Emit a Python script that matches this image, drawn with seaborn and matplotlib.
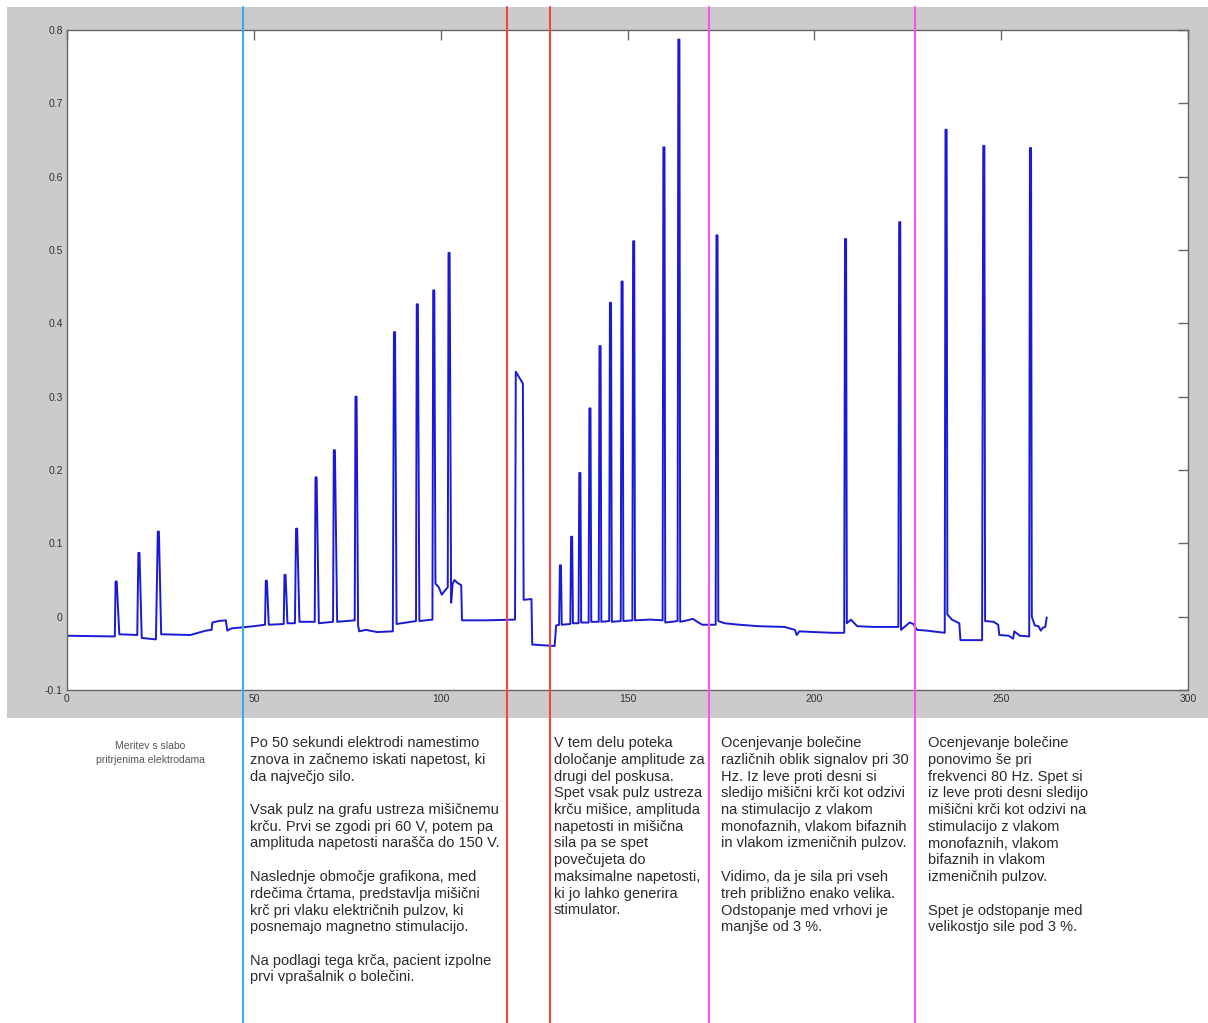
import numpy as np
import pandas as pd
import matplotlib
matplotlib.use("Agg")
import matplotlib.pyplot as plt
from matplotlib.patches import Rectangle
import seaborn as sns

# baseline (slow force level) knots, time [s] / force
base_t = [0, 12.8, 14.0, 18.8, 20.0, 23.8, 25.2, 33.0, 37.2, 38.7, 38.9, 40.5, 42.5, 42.9, 44.0, 50.0,
          53.0, 54.0, 58.0, 59.0, 61.0, 62.2, 66.3, 67.4, 71.2, 72.3, 77.0, 77.9, 78.2, 80.0, 83.0,
          87.2, 88.2, 93.4, 94.3, 97.8, 98.6, 99.5, 100.3, 101.2, 101.9, 102.8, 103.2, 103.7, 104.5,
          105.5, 105.7, 112.0, 119.9, 120.1, 122.0, 122.2, 124.3, 124.5, 130.5, 130.9, 131.7, 132.4,
          134.7, 135.4, 136.9, 137.6, 139.6, 140.3, 142.3, 143.0, 145.1, 145.8, 148.2, 148.9, 151.3,
          152.0, 156.0, 159.4, 160.1, 163.4, 164.1, 166.0, 167.5, 169.0, 170.0, 173.6, 174.3, 176.0,
          180.0, 185.0, 192.0, 194.8, 195.3, 196.0, 200.0, 205.0, 208.0, 208.7, 209.8, 210.5, 211.5,
          216.0, 222.5, 223.2, 225.5, 226.5, 227.5, 230.0, 234.9, 235.6, 236.8, 238.8, 239.1, 244.9,
          245.7, 248.0, 249.2, 249.5, 252.0, 253.2, 253.5, 255.0, 257.5, 258.2, 259.0, 260.0, 260.6,
          261.2, 261.8, 262.2]
base_v = [-0.026, -0.027, -0.024, -0.025, -0.029, -0.031, -0.024, -0.025, -0.019, -0.018, -0.008, -0.006,
          -0.005, -0.019, -0.016, -0.013, -0.011, -0.011, -0.010, -0.009, -0.009, -0.007, -0.007, -0.009,
          -0.007, -0.007, -0.005, -0.012, -0.020, -0.018, -0.021, -0.020, -0.010, -0.006, -0.006, -0.004,
          0.045, 0.040, 0.030, 0.036, 0.040, 0.019, 0.045, 0.050, 0.046, 0.043, -0.005, -0.005, -0.004,
          0.334, 0.318, 0.023, 0.024, -0.038, -0.040, -0.012, -0.011, -0.011, -0.010, -0.009, -0.009,
          -0.008, -0.008, -0.007, -0.007, -0.007, -0.006, -0.007, -0.006, -0.006, -0.005, -0.005, -0.004,
          -0.005, -0.008, -0.006, -0.007, -0.005, -0.003, -0.008, -0.011, -0.011, -0.006, -0.009, -0.011,
          -0.013, -0.014, -0.018, -0.025, -0.020, -0.021, -0.022, -0.022, -0.009, -0.004, -0.008, -0.013,
          -0.014, -0.014, -0.018, -0.008, -0.010, -0.018, -0.019, -0.022, 0.003, -0.004, -0.009, -0.032,
          -0.032, -0.006, -0.007, -0.011, -0.025, -0.026, -0.030, -0.020, -0.026, -0.027, 0.000, -0.012,
          -0.013, -0.019, -0.015, -0.014, -0.001]

# muscle twitch peaks
pulse_t = [13.0, 19.1, 24.3, 53.2, 58.2, 61.3, 66.5, 71.4, 77.2, 87.5, 93.6, 98.0, 102.1,
           131.9, 134.9, 137.1, 139.8, 142.5, 145.3, 148.4, 151.5, 159.6, 163.6, 173.8,
           208.2, 222.7, 235.1, 245.2, 257.7]
pulse_top = [0.048, 0.087, 0.116, 0.049, 0.057, 0.120, 0.190, 0.227, 0.300, 0.388, 0.426, 0.445, 0.496,
             0.070, 0.109, 0.196, 0.284, 0.369, 0.428, 0.457, 0.512, 0.640, 0.787, 0.520,
             0.515, 0.538, 0.664, 0.642, 0.639]

marker_t = [47.1, 117.7, 129.3, 171.9, 226.9]
marker_c = ["#3aa8f2", "#f24444", "#f24444", "#f655f6", "#f655f6"]

x_ticks = [0, 50, 100, 150, 200, 250, 300]
y_ticks = [-0.1, 0, 0.1, 0.2, 0.3, 0.4, 0.5, 0.6, 0.7, 0.8]
y_labels = ["-0.1", "0", "0.1", "0.2", "0.3", "0.4", "0.5", "0.6", "0.7", "0.8"]

note_small = "Meritev s slabo\npritrjenima elektrodama"
notes = [
    "Po 50 sekundi elektrodi namestimo\nznova in začnemo iskati napetost, ki\nda največjo silo.\n\n"
    "Vsak pulz na grafu ustreza mišičnemu\nkrču. Prvi se zgodi pri 60 V, potem pa\n"
    "amplituda napetosti narašča do 150 V.\n\n"
    "Naslednje območje grafikona, med\nrdečima črtama, predstavlja mišični\n"
    "krč pri vlaku električnih pulzov, ki\nposnemajo magnetno stimulacijo.\n\n"
    "Na podlagi tega krča, pacient izpolne\nprvi vprašalnik o bolečini.",
    "V tem delu poteka\ndoločanje amplitude za\ndrugi del poskusa.\nSpet vsak pulz ustreza\n"
    "krču mišice, amplituda\nnapetosti in mišična\nsila pa se spet\npovečujeta do\n"
    "maksimalne napetosti,\nki jo lahko generira\nstimulator.",
    "Ocenjevanje bolečine\nrazličnih oblik signalov pri 30\nHz. Iz leve proti desni si\n"
    "sledijo mišični krči kot odzivi\nna stimulacijo z vlakom\nmonofaznih, vlakom bifaznih\n"
    "in vlakom izmeničnih pulzov.\n\nVidimo, da je sila pri vseh\ntreh približno enako velika.\n"
    "Odstopanje med vrhovi je\nmanjše od 3 %.",
    "Ocenjevanje bolečine\nponovimo še pri\nfrekvenci 80 Hz. Spet si\niz leve proti desni sledijo\n"
    "mišični krči kot odzivi na\nstimulacijo z vlakom\nmonofaznih, vlakom\nbifaznih in vlakom\n"
    "izmeničnih pulzov.\n\nSpet je odstopanje med\nvelikostjo sile pod 3 %.",
]
note_x = [250, 554, 721, 928]  # left edge in pixels

# build trace: baseline knots + flat-topped twitch peaks, kept in time order
base = pd.DataFrame({"t": base_t, "v": base_v, "k": 0})
up = pd.DataFrame({"t": pulse_t, "v": pulse_top, "k": 1})
down = pd.DataFrame({"t": np.array(pulse_t) + 0.3, "v": pulse_top, "k": 2})
trace = pd.concat([base, up, down]).sort_values(["t", "k"], kind="stable").reset_index(drop=True)

sns.set_style("white")
plt.rcParams["font.family"] = ["Liberation Sans", "DejaVu Sans"]

W, H = 1208, 1023
fig = plt.figure(figsize=(W / 100, H / 100), dpi=100)
fig.patch.set_facecolor("white")
fig.patches.append(Rectangle((7 / W, 1 - 718 / H), 1201 / W, 711 / H, transform=fig.transFigure,
                             facecolor="#cbcbcb", edgecolor="none", zorder=-5))

ax = fig.add_axes([67 / W, 1 - 690 / H, 1121 / W, 660 / H])
ax.set_facecolor("white")

sns.lineplot(data=trace, x="t", y="v", sort=False, estimator=None, ax=ax,
             color="#1a1ad6", linewidth=1.4)

ax.set_xlim(0, 300)
ax.set_ylim(-0.1, 0.8)
ax.set_xticks(x_ticks)
ax.set_xticklabels([str(t) for t in x_ticks])
ax.set_yticks(y_ticks)
ax.set_yticklabels(y_labels)
ax.set_xlabel("")
ax.set_ylabel("")
ax.tick_params(direction="in", length=7, width=1, color="#666666", labelsize=7.5,
               labelcolor="#333333", top=True, right=True, pad=3)
for s in ax.spines.values():
    s.set_visible(True)
    s.set_color("#666666")
    s.set_linewidth(1)

# section markers run through the whole figure
ymin = (690 - 1023) / 660
ymax = (690 - 7) / 660
for xm, c in zip(marker_t, marker_c):
    ax.axvline(xm, ymin=ymin, ymax=ymax, color=c, linewidth=1.5, clip_on=False, zorder=5)

fig.text(150 / W, 1 - 741 / H, note_small, ha="center", va="top", fontsize=7.5,
         color="#555555", linespacing=1.55)
for nx, txt in zip(note_x, notes):
    fig.text(nx / W, 1 - 736 / H, txt, ha="left", va="top", fontsize=10.5,
             color="#2a2a2a", linespacing=1.25)

fig.savefig("out.png", dpi=100)
